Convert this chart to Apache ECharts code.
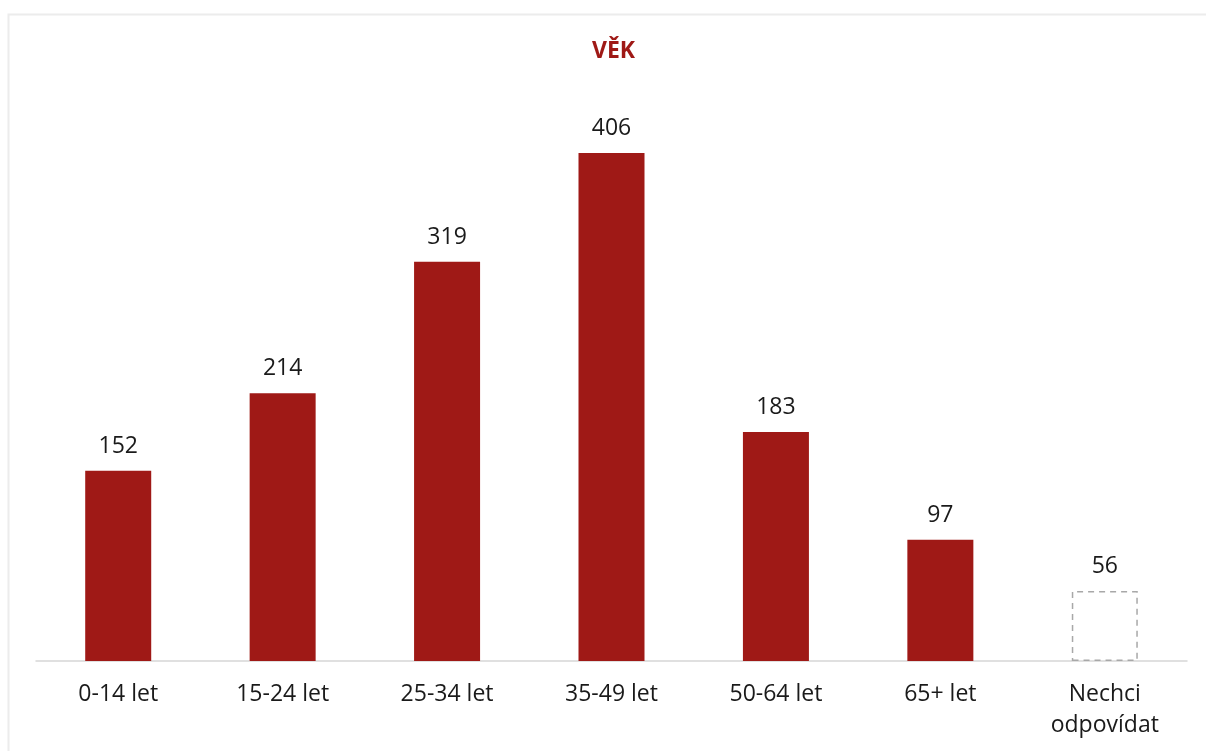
<!DOCTYPE html>
<html>
<head>
<meta charset="utf-8">
<script src="https://cdn.jsdelivr.net/npm/echarts@6/dist/echarts.min.js"></script>
<style>
html,body{margin:0;padding:0;background:#fff;}
#c{width:1206px;height:751px;}
</style>
</head>
<body>
<div id="c"></div>
<script>
const title = 'VĚK';
const categories = ['0-14 let', '15-24 let', '25-34 let', '35-49 let', '50-64 let', '65+ let', 'Nechci\nodpovídat'];
const values = [152, 214, 319, 406, 183, 97, 56];
const dashedCategories = ['Nechci\nodpovídat'];

const RED = '#9f1916';
const chart = echarts.init(document.getElementById('c'));
chart.setOption({
  animation: false,
  backgroundColor: '#fff',
  graphic: [{
    type: 'rect', left: 6, top: 12, z: -1,
    shape: { width: 1210, height: 780 },
    style: { fill: 'none', stroke: '#ececec', lineWidth: 2 }
  }],
  title: {
    text: title, left: 587, top: 35,
    textStyle: { fontFamily: 'Open Sans', fontWeight: 'bold', fontSize: 23, color: RED }
  },
  grid: { left: 36, right: 19, top: 153, bottom: 90, containLabel: false },
  xAxis: {
    type: 'category', data: categories,
    axisLine: { lineStyle: { color: '#d6d6d6', width: 1.5 } },
    axisTick: { show: false },
    axisLabel: { fontFamily: 'Open Sans', fontSize: 23, color: '#1a1a1a', margin: 18, lineHeight: 31, interval: 0 }
  },
  yAxis: { type: 'value', min: 0, max: 406, show: false, splitLine: { show: false } },
  series: [{
    type: 'bar', barWidth: 66,
    data: values.map((v, i) => dashedCategories.includes(categories[i]) ? {
      value: v,
      itemStyle: { color: 'rgba(0,0,0,0)', borderColor: '#a8a8a8', borderWidth: 1.5, borderType: [6, 5] }
    } : { value: v, itemStyle: { color: RED } }),
    label: { show: true, position: 'top', distance: 13, fontFamily: 'Open Sans', fontSize: 23, color: '#1a1a1a' }
  }]
});
</script>
</body>
</html>
